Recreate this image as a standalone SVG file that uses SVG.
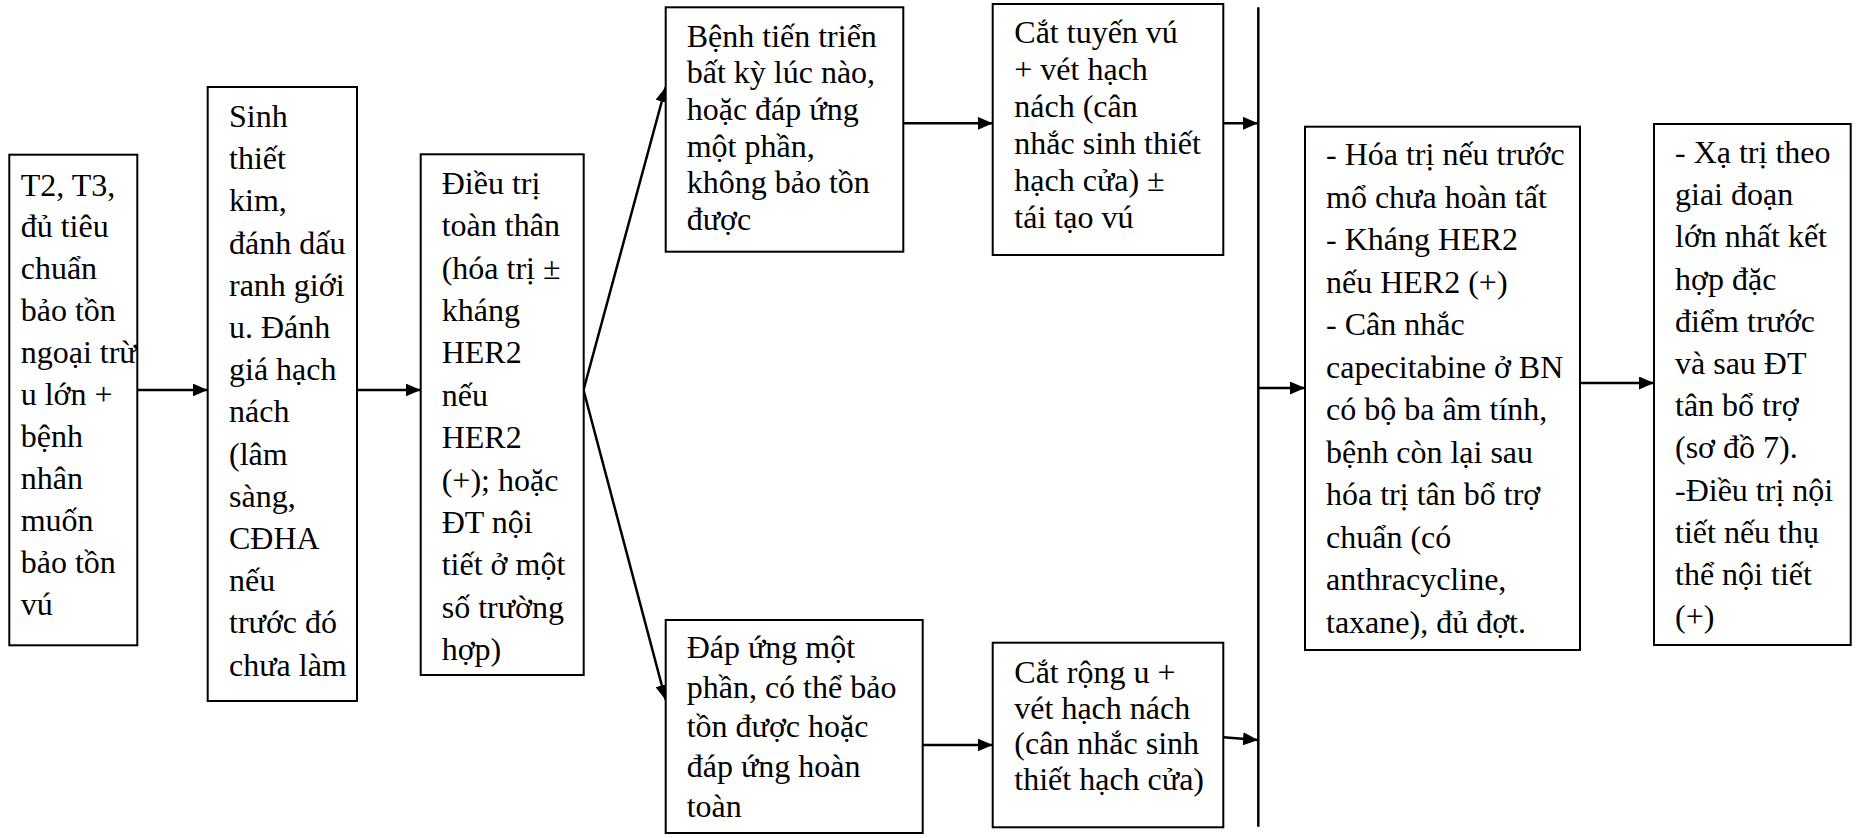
<svg xmlns="http://www.w3.org/2000/svg" width="1858" height="838" viewBox="0 0 1858 838">
<style>
.box{fill:#fff;stroke:#000;stroke-width:2}
.t{font-family:'Liberation Serif','Times New Roman',Times,'DejaVu Serif',serif;font-size:32px;fill:#000}
.c{fill:none;stroke:#000;stroke-width:2.5}
</style>
<defs>
<marker id="ah" markerWidth="15" markerHeight="13" refX="15" refY="6.5" orient="auto" markerUnits="userSpaceOnUse">
<path d="M0,0 L15,6.5 L0,13 z" fill="#000"/>
</marker>
</defs>
<rect width="1858" height="838" fill="#fff"/>

<g id="connectors">
<path class="c" d="M137.3,390 L207.7,390" marker-end="url(#ah)"/>
<path class="c" d="M357,390 L420.7,390" marker-end="url(#ah)"/>
<path class="c" d="M583.5,390 L665.7,87" marker-end="url(#ah)"/>
<path class="c" d="M583.5,390 L665.7,700" marker-end="url(#ah)"/>
<path class="c" d="M903.3,123.3 L992.7,123.3" marker-end="url(#ah)"/>
<path class="c" d="M922.7,745 L992.7,745" marker-end="url(#ah)"/>
<path class="c" d="M1223.3,123.3 L1258,123.3" marker-end="url(#ah)"/>
<path class="c" d="M1223.3,737.3 L1258,740" marker-end="url(#ah)"/>
<path class="c" d="M1258.3,7.3 L1258.3,826.7"/>
<path class="c" d="M1258.3,388 L1305,388" marker-end="url(#ah)"/>
<path class="c" d="M1580,383 L1654,383" marker-end="url(#ah)"/>
</g>

<g id="n1">
<rect class="box" x="9.3" y="154.7" width="128" height="490.6"/>
<text class="t" font-family="Liberation Serif, serif"><tspan x="20.7" y="195.5">T2, T3,</tspan><tspan x="20.7" y="237.4">đủ tiêu</tspan><tspan x="20.7" y="279.3">chuẩn</tspan><tspan x="20.7" y="321.2">bảo tồn</tspan><tspan x="20.7" y="363.1">ngoại trừ</tspan><tspan x="20.7" y="405">u lớn +</tspan><tspan x="20.7" y="446.9">bệnh</tspan><tspan x="20.7" y="488.8">nhân</tspan><tspan x="20.7" y="530.7">muốn</tspan><tspan x="20.7" y="572.6">bảo tồn</tspan><tspan x="20.7" y="614.5">vú</tspan></text>
</g>

<g id="n2">
<rect class="box" x="207.7" y="87" width="149.3" height="614"/>
<text class="t"><tspan x="229" y="127">Sinh</tspan><tspan x="229" y="169.2">thiết</tspan><tspan x="229" y="211.4">kim,</tspan><tspan x="229" y="253.6">đánh dấu</tspan><tspan x="229" y="295.8">ranh giới</tspan><tspan x="229" y="338">u. Đánh</tspan><tspan x="229" y="380.2">giá hạch</tspan><tspan x="229" y="422.4">nách</tspan><tspan x="229" y="464.6">(lâm</tspan><tspan x="229" y="506.8">sàng,</tspan><tspan x="229" y="549">CĐHA</tspan><tspan x="229" y="591.2">nếu</tspan><tspan x="229" y="633.4">trước đó</tspan><tspan x="229" y="675.6">chưa làm</tspan></text>
</g>

<g id="n3">
<rect class="box" x="420.7" y="154.3" width="163" height="520.7"/>
<text class="t"><tspan x="441.7" y="194">Điều trị</tspan><tspan x="441.7" y="236.4">toàn thân</tspan><tspan x="441.7" y="278.7">(hóa trị ±</tspan><tspan x="441.7" y="321.1">kháng</tspan><tspan x="441.7" y="363.4">HER2</tspan><tspan x="441.7" y="405.8">nếu</tspan><tspan x="441.7" y="448.2">HER2</tspan><tspan x="441.7" y="490.5">(+); hoặc</tspan><tspan x="441.7" y="532.9">ĐT nội</tspan><tspan x="441.7" y="575.2">tiết ở một</tspan><tspan x="441.7" y="617.6">số trường</tspan><tspan x="441.7" y="660">hợp)</tspan></text>
</g>

<g id="n4">
<rect class="box" x="665.7" y="7.3" width="237.6" height="244.4"/>
<text class="t"><tspan x="686.7" y="46.7">Bệnh tiến triển</tspan><tspan x="686.7" y="83.3">bất kỳ lúc nào,</tspan><tspan x="686.7" y="119.9">hoặc đáp ứng</tspan><tspan x="686.7" y="156.5">một phần,</tspan><tspan x="686.7" y="193.1">không bảo tồn</tspan><tspan x="686.7" y="229.7">được</tspan></text>
</g>

<g id="n5">
<rect class="box" x="665.7" y="620" width="257" height="213"/>
<text class="t"><tspan x="686.7" y="658">Đáp ứng một</tspan><tspan x="686.7" y="697.7">phần, có thể bảo</tspan><tspan x="686.7" y="737.4">tồn được hoặc</tspan><tspan x="686.7" y="777.1">đáp ứng hoàn</tspan><tspan x="686.7" y="816.8">toàn</tspan></text>
</g>

<g id="n6">
<rect class="box" x="992.7" y="4" width="230.6" height="251"/>
<text class="t"><tspan x="1014.3" y="43">Cắt tuyến vú</tspan><tspan x="1014.3" y="79.9">+ vét hạch</tspan><tspan x="1014.3" y="116.8">nách (cân</tspan><tspan x="1014.3" y="153.7">nhắc sinh thiết</tspan><tspan x="1014.3" y="190.6">hạch cửa)  ±</tspan><tspan x="1014.3" y="227.5">tái tạo vú</tspan></text>
</g>

<g id="n7">
<rect class="box" x="992.7" y="642.7" width="230.6" height="184.6"/>
<text class="t"><tspan x="1014.3" y="683">Cắt rộng u +</tspan><tspan x="1014.3" y="718.7">vét hạch nách</tspan><tspan x="1014.3" y="754.4">(cân nhắc sinh</tspan><tspan x="1014.3" y="790.1">thiết hạch cửa)</tspan></text>
</g>

<g id="n8">
<rect class="box" x="1305" y="126.7" width="275" height="523.3"/>
<text class="t"><tspan x="1326" y="165">- Hóa trị nếu trước</tspan><tspan x="1326" y="207.5">mổ chưa hoàn tất</tspan><tspan x="1326" y="250">- Kháng HER2</tspan><tspan x="1326" y="292.5">nếu HER2 (+)</tspan><tspan x="1326" y="335">- Cân nhắc</tspan><tspan x="1326" y="377.5">capecitabine ở BN</tspan><tspan x="1326" y="420">có bộ ba âm tính,</tspan><tspan x="1326" y="462.5">bệnh còn lại sau</tspan><tspan x="1326" y="505">hóa trị tân bổ trợ</tspan><tspan x="1326" y="547.5">chuẩn (có</tspan><tspan x="1326" y="590">anthracycline,</tspan><tspan x="1326" y="632.5">taxane), đủ đợt.</tspan></text>
</g>

<g id="n9">
<rect class="box" x="1654" y="124" width="196.7" height="521"/>
<text class="t"><tspan x="1675" y="163">- Xạ trị theo</tspan><tspan x="1675" y="205.2">giai đoạn</tspan><tspan x="1675" y="247.4">lớn nhất kết</tspan><tspan x="1675" y="289.6">hợp đặc</tspan><tspan x="1675" y="331.8">điểm trước</tspan><tspan x="1675" y="374">và sau ĐT</tspan><tspan x="1675" y="416.2">tân bổ trợ</tspan><tspan x="1675" y="458.4">(sơ đồ 7).</tspan><tspan x="1675" y="500.6">-Điều trị nội</tspan><tspan x="1675" y="542.8">tiết nếu thụ</tspan><tspan x="1675" y="585">thể nội tiết</tspan><tspan x="1675" y="627.2">(+)</tspan></text>
</g>
</svg>
